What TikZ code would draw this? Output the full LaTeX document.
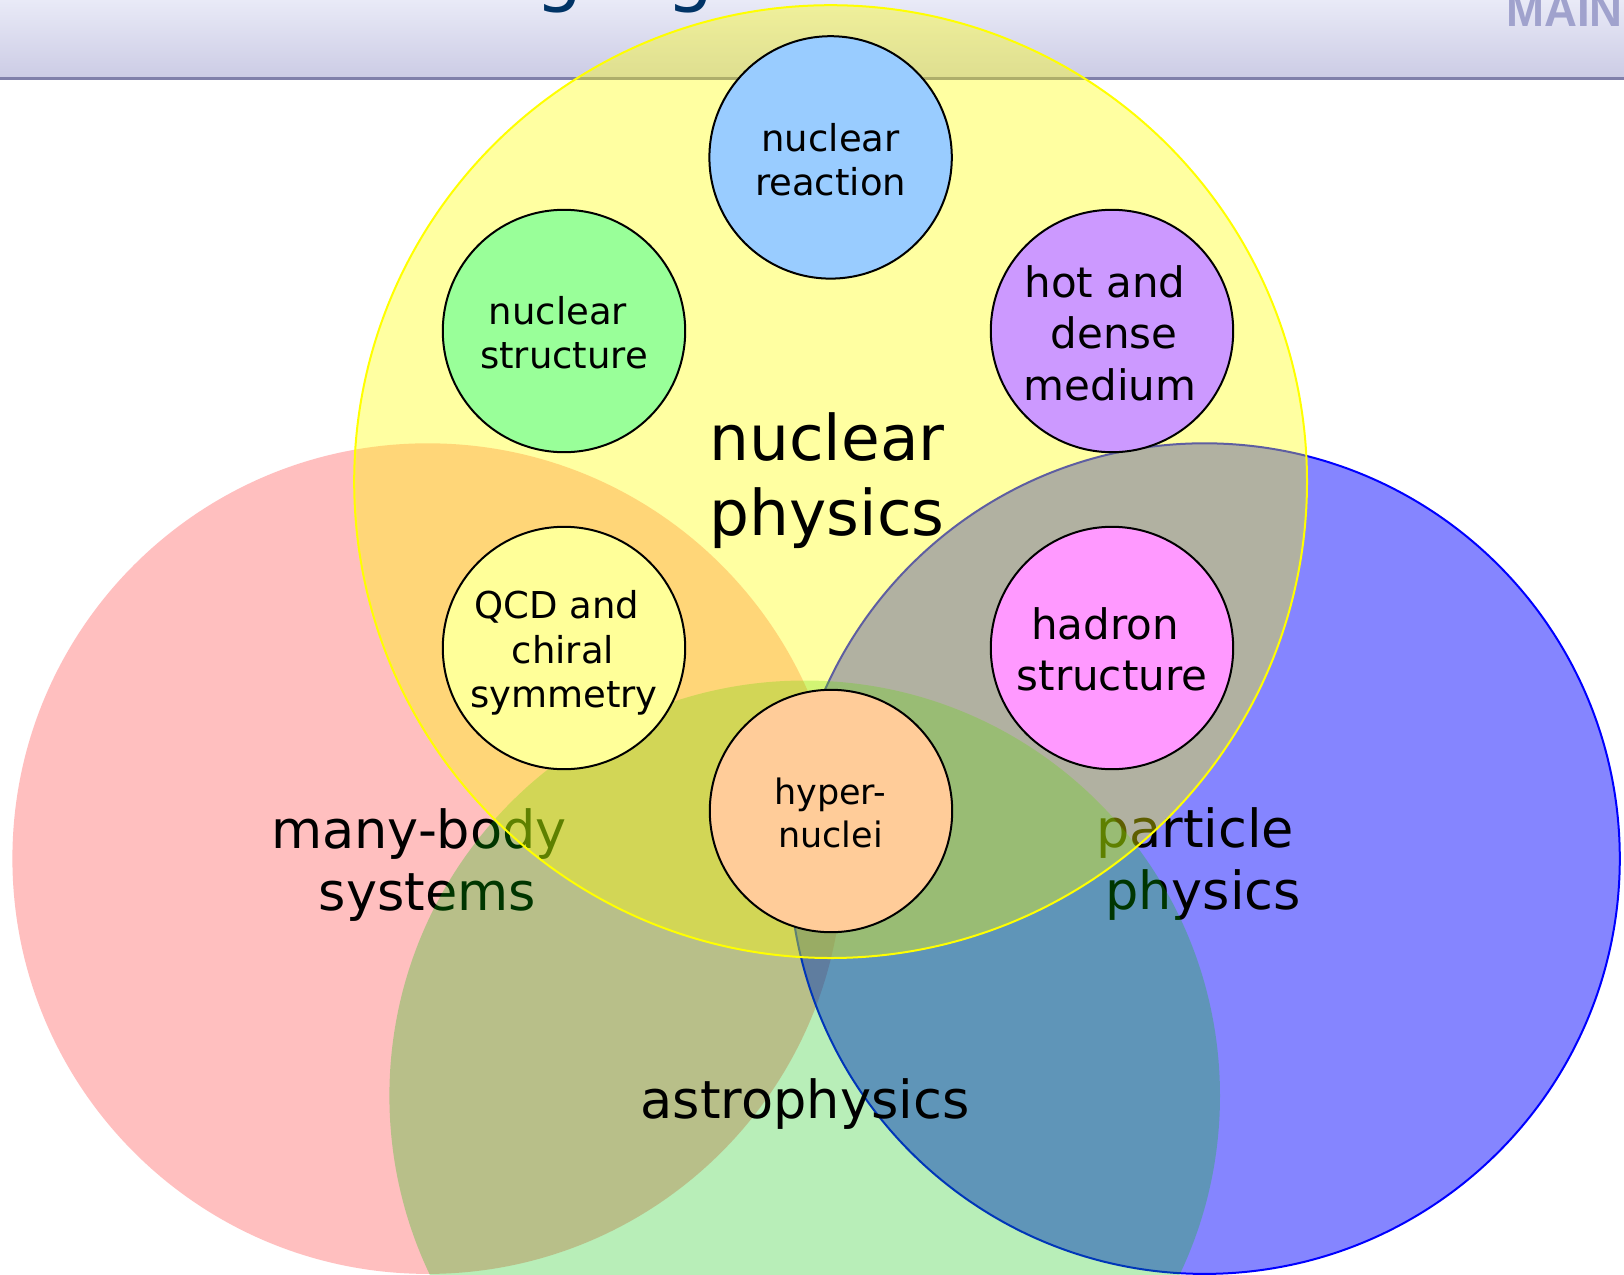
\documentclass[tikz,border=0pt]{standalone}
\usepackage{fontspec}
\setmainfont{DejaVu Sans}
\newfontfamily\logofont{Liberation Sans}
\definecolor{hdrtop}{RGB}{233,234,247}
\definecolor{hdrbot}{RGB}{204,204,229}
\definecolor{hdrline}{RGB}{128,128,170}
\definecolor{titlec}{RGB}{0,51,102}
\definecolor{logoc}{RGB}{160,162,205}
\definecolor{pinkc}{RGB}{255,191,191}
\definecolor{bluec}{RGB}{0,0,255}
\definecolor{greenc}{RGB}{0,194,0}
\definecolor{yellowc}{RGB}{255,255,0}
\definecolor{creaction}{RGB}{153,204,255}
\definecolor{cstructure}{RGB}{153,255,153}
\definecolor{chot}{RGB}{204,153,255}
\definecolor{cqcd}{RGB}{255,255,153}
\definecolor{chadron}{RGB}{255,153,255}
\definecolor{chyper}{RGB}{255,204,153}
\tikzset{
  smallc/.style={circle, draw=black, line width=1pt, minimum size=121.2pt, inner sep=0pt},
  lbl/.style={anchor=base, inner sep=0pt},
  fbig/.style={font=\fontsize{31.5pt}{37pt}\selectfont},
  fmid/.style={font=\fontsize{26.25pt}{31pt}\selectfont},
  fsa/.style={font=\fontsize{18.5pt}{22pt}\selectfont},
  fsb/.style={font=\fontsize{21pt}{25pt}\selectfont},
  fsc/.style={font=\fontsize{17.5pt}{21pt}\selectfont},
}
\begin{document}
\begin{tikzpicture}[x=0.5pt,y=-0.5pt]
\useasboundingbox (0,0) rectangle (1624,1275);
\fill[white] (0,0) rectangle (1624,1275);
% header
\shade[top color=hdrtop,bottom color=hdrbot] (0,0) rectangle (1624,77);
\draw[hdrline,line width=1.5pt] (0,78) -- (1624,78);
\node[lbl,text=titlec,font=\fontsize{37.5pt}{40pt}\selectfont] (g1) at (559,-2.7) {g};
\node[lbl,text=titlec,font=\fontsize{37.5pt}{40pt}\selectfont] (g2) at (690,-2.7) {g};
\node[anchor=base west,inner sep=0pt,text=logoc,font=\logofont\bfseries\fontsize{24pt}{28pt}\selectfont,xscale=0.95] (logo) at (1506,26) {MAIN};
% big circles
\fill[pinkc] (427.7,858.6) circle[radius=207.65pt];
\draw[bluec,line width=1pt,fill=bluec,fill opacity=0.48] (1204.5,858.6) circle[radius=207.65pt];
\node[lbl,fmid] (mb1) at (419,848) {many-body};
\node[lbl,fmid] (mb2) at (427.5,910) {systems};
\node[lbl,fmid] (pp1) at (1195,847) {particle};
\node[lbl,fmid] (pp2) at (1203,909) {physics};
\fill[greenc,fill opacity=0.28] (804.7,1095.8) circle[radius=207.65pt];
\draw[yellowc,line width=1pt,fill=yellowc,fill opacity=0.37] (830.6,481.6) circle[radius=238.2pt];
% small circles
\node[smallc,fill=creaction] (reaction) at (830.6,157.4) {};
\node[smallc,fill=cstructure] (structure) at (564,331) {};
\node[smallc,fill=chot] (hot) at (1112,331) {};
\node[smallc,fill=cqcd] (qcd) at (564,648) {};
\node[smallc,fill=chadron] (hadron) at (1112,648) {};
\node[smallc,fill=chyper] (hyper) at (831,811) {};
% small labels
\node[lbl,fsa] (r1) at (830.6,151) {nuclear};
\node[lbl,fsa] (r2) at (830.6,195) {reaction};
\node[lbl,fsa] (s1) at (558,324) {nuclear};
\node[lbl,fsa] (s2) at (564,368) {structure};
\node[lbl,fsb] (h1) at (1105,297) {hot and};
\node[lbl,fsb] (h2) at (1114,348) {dense};
\node[lbl,fsb] (h3) at (1110,400) {medium};
\node[lbl,fsa] (q1) at (557,618) {QCD and};
\node[lbl,fsa] (q2) at (563,663) {chiral};
\node[lbl,fsa] (q3) at (564,707) {symmetry};
\node[lbl,fsb] (d1) at (1105,639) {hadron};
\node[lbl,fsb] (d2) at (1112,690) {structure};
\node[lbl,fsc] (y1) at (830,804) {hyper-};
\node[lbl,fsc] (y2) at (830.5,847) {nuclei};
% top labels
\node[lbl,fbig] (np1) at (827,460) {nuclear};
\node[lbl,fbig] (np2) at (827,535) {physics};
\node[lbl,fmid] (astro) at (805,1118) {astrophysics};
\end{tikzpicture}
\end{document}
